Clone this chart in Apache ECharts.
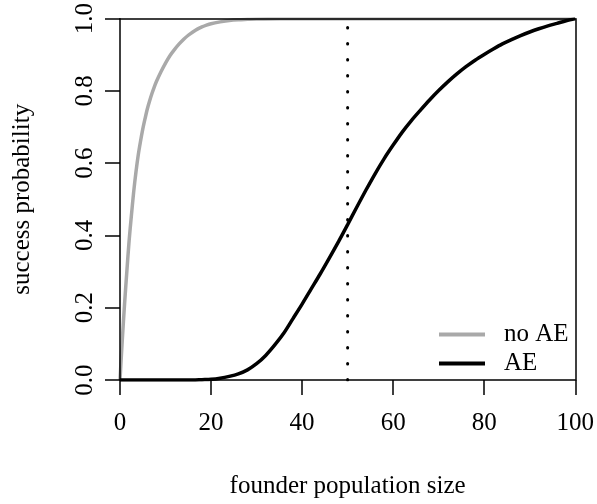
<!DOCTYPE html>
<html>
<head>
<meta charset="utf-8">
<script src="https://cdn.jsdelivr.net/npm/echarts@6/dist/echarts.min.js"></script>
<style>
html,body{margin:0;padding:0;background:#fff;}
#chart{width:597px;height:504px;}
</style>
</head>
<body>
<div id="chart"></div>
<script>
// ---- data ----
var xTicks = [0, 20, 40, 60, 80, 100];
var yTicks = ["0.0", "0.2", "0.4", "0.6", "0.8", "1.0"];

var noAE_x = [0,0.5,1,1.5,2,2.5,3,3.5,4,4.5,5,5.5,6,6.5,7,7.5,8,9,10,11,12,13,14,15,16,17,18,19,20,22,24,26,28,30,35,40,50,60,70,80,90,100];
var noAE_y = [0,0.11,0.21,0.30,0.385,0.455,0.52,0.575,0.622,0.66,0.694,0.723,0.75,0.772,0.792,0.81,0.826,0.853,0.877,0.898,0.915,0.93,0.943,0.954,0.963,0.971,0.977,0.982,0.986,0.991,0.995,0.997,0.998,0.999,1,1,1,1,1,1,1,1];

var AE_x = [0,10,14,16,18,20,22,24,26,28,30,32,34,36,38,40,42,44,46,48,50,52,54,56,58,60,62,64,66,68,70,72,74,76,78,80,82,84,86,88,90,92,94,96,98,100];
var AE_y = [0,0,0,0,0.001,0.002,0.005,0.01,0.017,0.028,0.045,0.068,0.097,0.13,0.17,0.21,0.252,0.294,0.338,0.383,0.43,0.478,0.525,0.57,0.612,0.65,0.686,0.718,0.747,0.775,0.801,0.825,0.847,0.867,0.885,0.901,0.916,0.93,0.942,0.953,0.963,0.972,0.98,0.987,0.994,1.0];

var refX = 50;

function pairs(xs, ys){ return xs.map(function(x,i){ return [x, ys[i]]; }); }

var FONT = '"Liberation Serif", "DejaVu Serif", serif';
var BOX = {color: '#000', width: 1.5};
var chart = echarts.init(document.getElementById('chart'), null, {renderer:'canvas'});
chart.setOption({
  animation: false,
  backgroundColor: '#ffffff',
  textStyle: {fontFamily: FONT, color: '#000'},
  grid: {left: 120, top: 18, right: 21, bottom: 116, show: false},
  graphic: [{
    type: 'rect', z: 50, silent: true,
    shape: {x: 118, y: 0, width: 462, height: 17.5},
    style: {fill: '#ffffff'}
  }],
  legend: {
    data: ['no AE', 'AE'],
    orient: 'vertical',
    left: 434, top: 315,
    itemWidth: 46, itemHeight: 4, itemGap: 0,
    icon: 'rect',
    textStyle: {fontFamily: FONT, fontSize: 25, color: '#000', lineHeight: 29, padding: [0,0,0,14]}
  },
  xAxis: [{
    type: 'value', min: 0, max: 100, interval: 20, position: 'bottom', z: 100,
    name: 'founder population size', nameLocation: 'middle', nameGap: 94,
    nameTextStyle: {fontFamily: FONT, fontSize: 25, color: '#000'},
    axisLine: {show: true, onZero: false, lineStyle: BOX},
    axisTick: {show: true, length: 15, lineStyle: BOX},
    axisLabel: {fontFamily: FONT, fontSize: 25, color: '#000', margin: 31, formatter: function(v){ return String(v); }},
    splitLine: {show: false}
  }, {
    type: 'value', min: 0, max: 100, position: 'top', z: 100,
    axisLine: {show: true, onZero: false, lineStyle: BOX}, axisTick: {show: false}, axisLabel: {show: false}, splitLine: {show: false}
  }],
  yAxis: [{
    type: 'value', min: 0, max: 1, interval: 0.2, position: 'left', z: 100,
    name: 'success probability', nameLocation: 'middle', nameGap: 85,
    nameTextStyle: {fontFamily: FONT, fontSize: 25, color: '#000'},
    axisLine: {show: true, onZero: false, lineStyle: BOX},
    axisTick: {show: true, length: 15, lineStyle: BOX},
    axisLabel: {fontFamily: FONT, fontSize: 25, color: '#000', margin: 22, rotate: 90,
      formatter: function(v){ return yTicks[Math.round(v/0.2)]; }},
    splitLine: {show: false}
  }, {
    type: 'value', min: 0, max: 1, position: 'right', z: 100,
    axisLine: {show: true, onZero: false, lineStyle: BOX}, axisTick: {show: false}, axisLabel: {show: false}, splitLine: {show: false}
  }],
  series: [
    {name: 'no AE', type: 'line', data: pairs(noAE_x, noAE_y), showSymbol: false, symbol: 'none',
     smooth: 0.3, lineStyle: {color: '#a9a9a9', width: 3.5}, itemStyle: {color: '#a9a9a9'}, clip: true, z: 2},
    {name: 'AE', type: 'line', data: pairs(AE_x, AE_y), showSymbol: false, symbol: 'none',
     smooth: 0.3, lineStyle: {color: '#000', width: 3.5}, itemStyle: {color: '#000'}, clip: true, z: 3},
    {name: 'ref', type: 'line', data: [[refX, 0], [refX, 1]], showSymbol: false, symbol: 'none',
     lineStyle: {color: '#000', width: 3, type: [0.5, 15.5], cap: 'round'}, clip: true, z: 4, silent: true}
  ]
});
</script>
</body>
</html>
